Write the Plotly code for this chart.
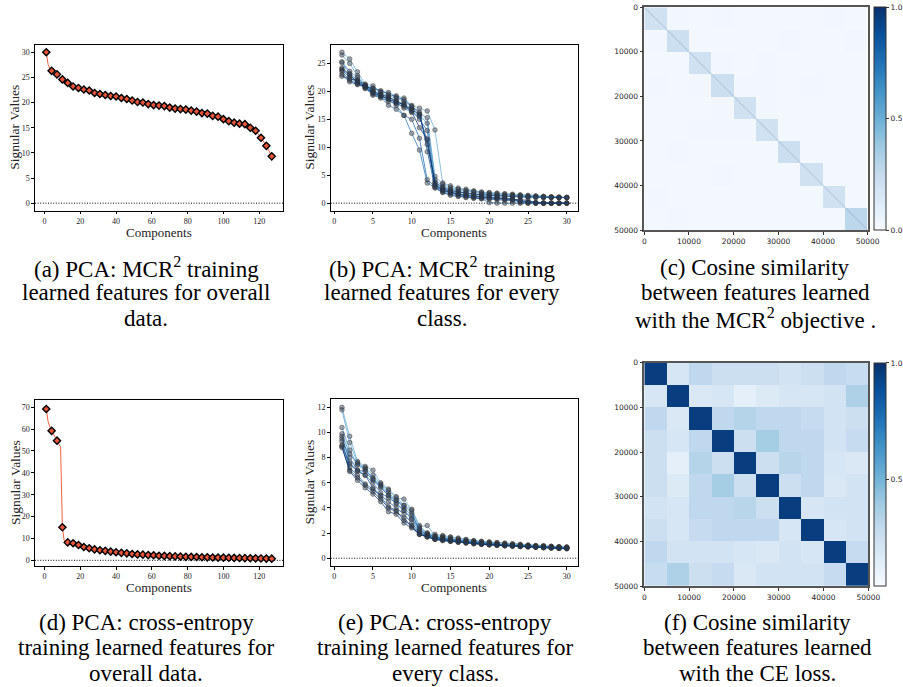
import plotly.graph_objects as go
from plotly.colors import sample_colorscale

W, H = 903, 687

# ---------------- data ----------------
# (a) PCA of MCR2 features, overall data (markers every 3 components)
mcr_all_x = list(range(1, 128, 3))
mcr_all_y = [30.0, 26.3, 25.6, 24.6, 23.9, 23.2, 22.9, 22.6, 22.4, 21.9, 21.7, 21.5, 21.3,
             21.2, 20.9, 20.7, 20.4, 20.1, 20.0, 19.7, 19.5, 19.4, 19.3, 19.0, 18.8, 18.7,
             18.6, 18.4, 18.2, 17.9, 17.8, 17.35, 17.2, 16.7, 16.3, 16.0, 15.8, 15.7, 15.0,
             14.4, 13.0, 11.4, 9.3]
mcr_all_line_extra = {2: 27.6, 3: 26.8}

# (d) PCA of cross-entropy features, overall data
ce_all_x = list(range(1, 128, 3))
ce_all_y = [69.2, 59.2, 54.7, 15.1, 8.2, 7.8, 7.0, 6.1, 5.5, 5.0, 4.6, 4.3, 4.0, 3.7, 3.4,
            3.2, 2.9, 2.7, 2.6, 2.4, 2.3, 2.1, 2.0, 1.9, 1.8, 1.7, 1.6, 1.55, 1.5, 1.4, 1.35,
            1.3, 1.25, 1.2, 1.15, 1.1, 1.05, 1.0, 0.95, 0.9, 0.85, 0.8, 0.75]
ce_all_line_extra = {2: 63.5, 3: 61.0, 5: 57.8, 6: 56.2, 8: 53.2, 9: 51.8, 11: 9.0, 12: 8.6}

components_30 = list(range(1, 31))

# (b) per-class singular values, MCR2
mcr_class = [
    [27.0, 25.8, 23.5, 21.3, 21.0, 20.0, 19.8, 19.2, 18.8, 17.5, 17.0, 16.5, 13.1, 3.6, 3.1, 2.7, 2.5, 2.2, 2.0, 1.9, 1.8, 1.7, 1.6, 1.5, 1.4, 1.3, 1.2, 1.15, 1.1, 1.05],
    [26.5, 25.0, 22.8, 21.0, 20.5, 19.8, 19.2, 18.8, 18.2, 17.2, 16.0, 15.3, 4.8, 3.4, 2.8, 2.5, 2.3, 2.1, 1.9, 1.8, 1.7, 1.6, 1.5, 1.4, 1.3, 1.25, 1.2, 1.1, 1.05, 1.0],
    [25.3, 23.6, 22.5, 21.0, 20.2, 19.5, 19.0, 18.3, 17.8, 16.8, 15.8, 14.3, 4.2, 3.0, 2.5, 2.3, 2.1, 1.9, 1.7, 1.6, 1.5, 1.45, 1.4, 1.3, 1.2, 1.15, 1.1, 1.05, 1.0, 1.0],
    [25.1, 23.2, 22.0, 20.8, 20.0, 19.3, 18.7, 18.0, 17.0, 16.2, 15.5, 11.3, 3.6, 2.6, 2.2, 2.0, 1.8, 1.6, 1.5, 1.4, 1.3, 1.2, 1.15, 1.1, 1.05, 1.0, 1.0, 1.0, 1.0, 1.0],
    [24.0, 22.8, 21.8, 20.6, 19.8, 19.1, 18.5, 17.5, 15.7, 12.5, 9.5, 3.6, 2.8, 2.0, 1.6, 1.3, 1.1, 0.9, 0.8, 0.1, 0.0, 0.0, 0.0, 0.0, 0.0, 0.0, 0.0, 0.0, 0.0, 0.0],
    [23.8, 22.5, 21.5, 20.5, 19.5, 19.0, 17.5, 16.8, 15.7, 15.0, 11.6, 4.2, 3.0, 2.2, 1.8, 1.5, 1.3, 1.1, 1.0, 0.9, 0.8, 0.7, 0.6, 0.5, 0.1, 0.0, 0.0, 0.0, 0.0, 0.0],
    [23.5, 22.0, 21.3, 20.8, 19.3, 18.8, 18.2, 17.8, 17.3, 16.5, 15.0, 13.0, 3.3, 2.5, 2.0, 1.7, 1.5, 1.3, 1.2, 1.1, 1.0, 0.9, 0.8, 0.1, 0.0, 0.0, 0.0, 0.0, 0.0, 0.0],
    [23.0, 21.7, 21.2, 20.9, 20.6, 20.1, 19.5, 19.0, 18.5, 17.3, 16.3, 9.2, 2.7, 1.9, 1.4, 1.2, 1.0, 0.9, 0.8, 0.7, 0.6, 0.5, 0.4, 0.3, 0.2, 0.1, 0.0, 0.0, 0.0, 0.0],
    [22.7, 22.2, 22.0, 21.2, 20.0, 19.4, 19.0, 18.3, 17.6, 16.8, 15.8, 10.5, 3.8, 2.8, 2.3, 2.0, 1.8, 1.6, 1.5, 1.4, 1.3, 1.25, 1.2, 1.15, 1.1, 1.05, 1.0, 1.0, 1.0, 1.0],
    [24.2, 23.0, 21.6, 21.0, 19.6, 19.2, 18.6, 18.1, 17.6, 16.4, 13.5, 11.5, 3.2, 2.3, 1.9, 1.6, 1.4, 1.2, 1.1, 1.0, 0.9, 0.8, 0.7, 0.6, 0.5, 0.1, 0.0, 0.0, 0.0, 0.0],
]

# (e) per-class singular values, cross-entropy
ce_class = [
    [12.0, 9.7, 7.7, 7.3, 7.0, 6.0, 5.5, 4.9, 4.2, 3.9, 2.6, 2.0, 1.9, 1.8, 1.7, 1.6, 1.5, 1.4, 1.35, 1.3, 1.25, 1.2, 1.15, 1.1, 1.05, 1.0, 1.0, 0.95, 0.92, 0.9],
    [11.8, 9.2, 7.6, 7.2, 6.6, 5.9, 5.4, 4.8, 4.7, 3.8, 2.5, 2.6, 1.8, 1.75, 1.65, 1.55, 1.45, 1.38, 1.32, 1.27, 1.22, 1.17, 1.12, 1.08, 1.04, 1.0, 0.97, 0.94, 0.91, 0.88],
    [10.4, 8.6, 7.4, 7.0, 6.4, 5.8, 5.2, 4.6, 4.0, 3.4, 2.4, 2.0, 1.7, 1.65, 1.55, 1.45, 1.38, 1.3, 1.25, 1.2, 1.15, 1.1, 1.06, 1.02, 0.99, 0.96, 0.93, 0.9, 0.87, 0.85],
    [9.9, 8.3, 7.5, 7.1, 6.3, 5.7, 5.0, 4.3, 3.8, 3.2, 2.3, 1.9, 1.7, 1.6, 1.5, 1.42, 1.35, 1.28, 1.22, 1.17, 1.12, 1.08, 1.04, 1.0, 0.97, 0.94, 0.91, 0.88, 0.86, 0.84],
    [9.7, 7.6, 7.0, 6.6, 6.0, 5.2, 4.8, 4.4, 3.8, 3.1, 2.1, 1.8, 1.6, 1.55, 1.45, 1.37, 1.3, 1.23, 1.18, 1.13, 1.09, 1.05, 1.01, 0.98, 0.95, 0.92, 0.89, 0.86, 0.83, 0.8],
    [9.5, 8.0, 7.0, 6.9, 6.2, 5.6, 5.0, 4.6, 4.2, 3.6, 2.2, 1.9, 1.7, 1.6, 1.48, 1.4, 1.32, 1.25, 1.2, 1.15, 1.1, 1.06, 1.02, 0.99, 0.96, 0.93, 0.9, 0.87, 0.84, 0.82],
    [9.3, 7.2, 6.6, 5.9, 5.5, 4.9, 4.1, 3.8, 3.0, 2.6, 1.9, 1.7, 1.5, 1.45, 1.38, 1.3, 1.24, 1.18, 1.13, 1.09, 1.05, 1.01, 0.98, 0.95, 0.92, 0.89, 0.86, 0.83, 0.8, 0.78],
    [9.0, 7.5, 6.9, 6.6, 5.6, 5.0, 4.5, 4.0, 3.5, 2.8, 2.0, 1.8, 1.6, 1.5, 1.4, 1.33, 1.27, 1.2, 1.15, 1.1, 1.06, 1.02, 0.99, 0.96, 0.93, 0.9, 0.87, 0.84, 0.81, 0.79],
    [8.9, 6.9, 6.2, 5.6, 5.1, 4.5, 3.7, 3.5, 2.8, 2.4, 1.9, 1.7, 1.5, 1.4, 1.33, 1.26, 1.2, 1.14, 1.09, 1.05, 1.01, 0.98, 0.95, 0.92, 0.89, 0.86, 0.83, 0.8, 0.77, 0.75],
    [8.8, 7.0, 6.4, 5.8, 5.3, 4.7, 4.0, 3.7, 3.2, 2.5, 1.9, 1.7, 1.5, 1.42, 1.35, 1.28, 1.22, 1.16, 1.11, 1.07, 1.03, 1.0, 0.96, 0.93, 0.9, 0.87, 0.84, 0.81, 0.78, 0.76],
]

# (c), (f) cosine similarity, averaged per 5000-sample class block (10 classes)
n_samples = 50000
block_centers = [2500, 7500, 12500, 17500, 22500, 27500, 32500, 37500, 42500, 47500]
cos_mcr = [
    [0.20, 0.03, 0.02, 0.03, 0.02, 0.02, 0.02, 0.02, 0.03, 0.02],
    [0.03, 0.22, 0.02, 0.02, 0.02, 0.02, 0.03, 0.02, 0.02, 0.03],
    [0.02, 0.02, 0.20, 0.03, 0.02, 0.03, 0.02, 0.02, 0.02, 0.02],
    [0.03, 0.02, 0.03, 0.22, 0.03, 0.03, 0.02, 0.03, 0.02, 0.02],
    [0.02, 0.02, 0.02, 0.03, 0.20, 0.03, 0.02, 0.02, 0.02, 0.02],
    [0.02, 0.02, 0.03, 0.03, 0.03, 0.20, 0.02, 0.02, 0.02, 0.02],
    [0.02, 0.03, 0.02, 0.02, 0.02, 0.02, 0.22, 0.02, 0.02, 0.02],
    [0.02, 0.02, 0.02, 0.03, 0.02, 0.02, 0.02, 0.20, 0.02, 0.02],
    [0.03, 0.02, 0.02, 0.02, 0.02, 0.02, 0.02, 0.02, 0.20, 0.02],
    [0.02, 0.03, 0.02, 0.02, 0.02, 0.02, 0.02, 0.02, 0.02, 0.28],
]
cos_ce = [
    [0.95, 0.20, 0.30, 0.25, 0.25, 0.25, 0.22, 0.25, 0.30, 0.27],
    [0.20, 0.95, 0.18, 0.20, 0.13, 0.17, 0.20, 0.20, 0.22, 0.35],
    [0.30, 0.18, 0.95, 0.30, 0.33, 0.30, 0.30, 0.28, 0.22, 0.25],
    [0.25, 0.20, 0.30, 0.95, 0.25, 0.38, 0.30, 0.30, 0.22, 0.28],
    [0.25, 0.13, 0.33, 0.25, 0.95, 0.25, 0.32, 0.30, 0.20, 0.18],
    [0.25, 0.17, 0.30, 0.38, 0.25, 0.95, 0.25, 0.30, 0.18, 0.22],
    [0.22, 0.20, 0.30, 0.30, 0.32, 0.25, 0.95, 0.20, 0.22, 0.22],
    [0.25, 0.20, 0.28, 0.30, 0.30, 0.30, 0.20, 0.95, 0.20, 0.22],
    [0.30, 0.22, 0.22, 0.22, 0.20, 0.18, 0.22, 0.20, 0.95, 0.28],
    [0.27, 0.35, 0.25, 0.28, 0.18, 0.22, 0.22, 0.22, 0.28, 0.95],
]
heat_ticks = [0, 10000, 20000, 30000, 40000, 50000]
heat_tick_text = ["0", "10000", "20000", "30000", "40000", "50000"]

captions = {
    "a": ["(a) PCA: MCR<sup>2</sup> training", "learned features for overall", "data."],
    "b": ["(b) PCA: MCR<sup>2</sup> training", "learned features for every", "class."],
    "c": ["(c) Cosine similarity", "between features learned", "with the MCR<sup>2</sup> objective ."],
    "d": ["(d) PCA: cross-entropy", "training learned features for", "overall data."],
    "e": ["(e) PCA: cross-entropy", "training learned features for", "every class."],
    "f": ["(f) Cosine similarity", "between features learned", "with the CE loss."],
}

# ---------------- styling ----------------
BLUES = ["#f7fbff", "#deebf7", "#c6dbef", "#9ecae1", "#6baed6",
         "#4292c6", "#2171b5", "#08519c", "#08306b"]
blues_scale = [[i / 8, c] for i, c in enumerate(BLUES)]
SERIF = "Liberation Serif, Times New Roman, serif"
SANS = "DejaVu Sans, sans-serif"
LINE_RED = "#f4603f"
MARK_RED = "#e9553a"


def dom_x(l, r):
    return [l / W, r / W]


def dom_y(t, b):
    return [1 - b / H, 1 - t / H]


fig = go.Figure()


def merged_line(xs, ys, extra):
    d = dict(zip(xs, ys))
    d.update(extra)
    k = sorted(d)
    return k, [d[i] for i in k]


red_marker = dict(symbol="diamond", size=5.5, color=MARK_RED, line=dict(color="black", width=1.4))

# (a)
lx, ly = merged_line(mcr_all_x, mcr_all_y, mcr_all_line_extra)
fig.add_trace(go.Scatter(x=lx, y=ly, mode="lines", line=dict(color=LINE_RED, width=1),
                         xaxis="x", yaxis="y", hoverinfo="skip"))
fig.add_trace(go.Scatter(x=mcr_all_x, y=mcr_all_y, mode="markers", marker=red_marker,
                         xaxis="x", yaxis="y"))
# (d)
lx, ly = merged_line(ce_all_x, ce_all_y, ce_all_line_extra)
fig.add_trace(go.Scatter(x=lx, y=ly, mode="lines", line=dict(color=LINE_RED, width=1),
                         xaxis="x4", yaxis="y4", hoverinfo="skip"))
fig.add_trace(go.Scatter(x=ce_all_x, y=ce_all_y, mode="markers", marker=red_marker,
                         xaxis="x4", yaxis="y4"))

# (b), (e)
n_cls = len(mcr_class)
cls_colors = sample_colorscale(blues_scale, [0.5 + 0.5 * i / (n_cls - 1) for i in range(n_cls)])
for data, xa, ya in ((mcr_class, "x2", "y2"), (ce_class, "x5", "y5")):
    for i, vals in enumerate(data):
        c = cls_colors[i]
        fig.add_trace(go.Scatter(x=components_30, y=vals, mode="lines+markers",
                                 line=dict(color=c, width=1),
                                 marker=dict(size=4.5, color="rgba(40,55,80,0.55)",
                                             line=dict(color="#333", width=0.8)),
                                 opacity=0.75, xaxis=xa, yaxis=ya))

# (c), (f) heatmaps
def cbar(ypos, tickvals, ticktext):
    return dict(x=874.3 / W, xanchor="left", y=ypos, yanchor="middle",
                len=223 / H, lenmode="fraction", thickness=12, thicknessmode="pixels",
                outlinewidth=1, outlinecolor="#333", ticks="outside", ticklen=3,
                tickcolor="#333", tickmode="array", tickvals=tickvals, ticktext=ticktext,
                tickfont=dict(family=SANS, size=7.5, color="#222"), xpad=0, ypad=0)


fig.add_trace(go.Heatmap(z=cos_mcr, x=block_centers, y=block_centers, colorscale=blues_scale,
                         zmin=0, zmax=1, xaxis="x3", yaxis="y3",
                         colorbar=cbar(1 - 118.6 / H, [0, 0.5, 1], ["0.0", "0.5", "1.0"])))
fig.add_trace(go.Scatter(x=[0, n_samples], y=[0, n_samples], mode="lines",
                         line=dict(color="rgba(60,100,150,0.45)", width=0.6),
                         xaxis="x3", yaxis="y3", hoverinfo="skip"))
fig.add_trace(go.Heatmap(z=cos_ce, x=block_centers, y=block_centers, colorscale=blues_scale,
                         zmin=0.04, zmax=1, xaxis="x6", yaxis="y6",
                         colorbar=cbar(1 - 474.4 / H, [0.5, 1], ["0.5", "1.0"])))

# ---------------- axes ----------------
def line_axis(domain, rng, tickvals, anchor):
    return dict(domain=domain, range=rng, tickmode="array", tickvals=tickvals, anchor=anchor,
                showline=True, mirror=True, linecolor="black", linewidth=1.3,
                ticks="outside", ticklen=2.5, tickwidth=0.8, tickcolor="black",
                tickfont=dict(family=SERIF, size=8, color="#222"),
                showgrid=False, zeroline=False, automargin=False)


def heat_axis(domain, rng, anchor):
    return dict(domain=domain, range=rng, tickmode="array", tickvals=heat_ticks,
                ticktext=heat_tick_text, anchor=anchor,
                showline=True, mirror=True, linecolor="#555", linewidth=1.5,
                ticks="outside", ticklen=3, tickwidth=0.8, tickcolor="#333",
                tickfont=dict(family=SANS, size=7.5, color="#222"),
                showgrid=False, zeroline=False, automargin=False)


xa_l, xa_m = dom_x(35, 283), dom_x(330.7, 578)
top_row, bot_row_d, bot_row_e = dom_y(44.7, 210.7), dom_y(400, 566), dom_y(399.3, 566)

fig.update_layout(
    xaxis=line_axis(xa_l, [-5.3, 133.3], [0, 20, 40, 60, 80, 100, 120], "y"),
    yaxis=line_axis(top_row, [-1.5, 31.5], [0, 5, 10, 15, 20, 25, 30], "x"),
    xaxis2=line_axis(xa_m, [-0.45, 31.45], [0, 5, 10, 15, 20, 25, 30], "y2"),
    yaxis2=line_axis(top_row, [-1.35, 28.35], [0, 5, 10, 15, 20, 25], "x2"),
    xaxis3=heat_axis(dom_x(644.3, 867.7), [0, n_samples], "y3"),
    yaxis3=heat_axis(dom_y(7.3, 230), [n_samples, 0], "x3"),
    xaxis4=line_axis(xa_l, [-5.3, 133.3], [0, 20, 40, 60, 80, 100, 120], "y4"),
    yaxis4=line_axis(bot_row_d, [-2.6, 73.3], [0, 10, 20, 30, 40, 50, 60, 70], "x4"),
    xaxis5=line_axis(xa_m, [-0.45, 31.45], [0, 5, 10, 15, 20, 25, 30], "y5"),
    yaxis5=line_axis(bot_row_e, [-0.62, 12.64], [0, 2, 4, 6, 8, 10, 12], "x5"),
    xaxis6=heat_axis(dom_x(644.3, 868.3), [0, n_samples], "y6"),
    yaxis6=heat_axis(dom_y(362.7, 586), [n_samples, 0], "x6"),
)

# dotted zero lines
shapes = []
for xr, yr in (("x", "y"), ("x2", "y2"), ("x4", "y4"), ("x5", "y5")):
    shapes.append(dict(type="line", xref=f"{xr} domain", x0=0, x1=1, yref=yr, y0=0, y1=0,
                       line=dict(color="black", width=1, dash="1px,1.6px"), layer="below"))

annotations = []
# axis titles
for cx, cy in ((159, 232), (454.3, 232), (159, 587), (454.3, 587)):
    annotations.append(dict(text="Components", x=cx / W, y=1 - cy / H, xref="paper", yref="paper",
                            showarrow=False, font=dict(family=SERIF, size=13, color="#222"),
                            xanchor="center", yanchor="middle", borderpad=0))
for cx, cy in ((15, 127.7), (310, 127.7), (15, 483), (310, 482.6)):
    annotations.append(dict(text="Signular Values", x=cx / W, y=1 - cy / H, xref="paper",
                            yref="paper", showarrow=False, textangle=-90,
                            font=dict(family=SERIF, size=13.5, color="#222"),
                            xanchor="center", yanchor="middle", borderpad=0))
# captions
cap_pos = {"a": (146, 267), "b": (442, 267), "c": (755, 267),
           "d": (146, 622), "e": (445, 622), "f": (757, 622)}
for key, lines in captions.items():
    cx, cy = cap_pos[key]
    for j, t in enumerate(lines):
        annotations.append(dict(text=t, x=cx / W, y=1 - (cy + 25.6 * j) / H, xref="paper",
                                yref="paper", showarrow=False,
                                font=dict(family=SERIF, size=23, color="black"),
                                xanchor="center", yanchor="middle", borderpad=0))

fig.update_layout(width=W, height=H, margin=dict(l=0, r=0, t=0, b=0, pad=0, autoexpand=False),
                  paper_bgcolor="white", plot_bgcolor="white", showlegend=False,
                  shapes=shapes, annotations=annotations)

fig.write_html("out.html", config={"displayModeBar": False},
               post_script="document.body.style.margin='0px';document.body.style.overflow='hidden';")
